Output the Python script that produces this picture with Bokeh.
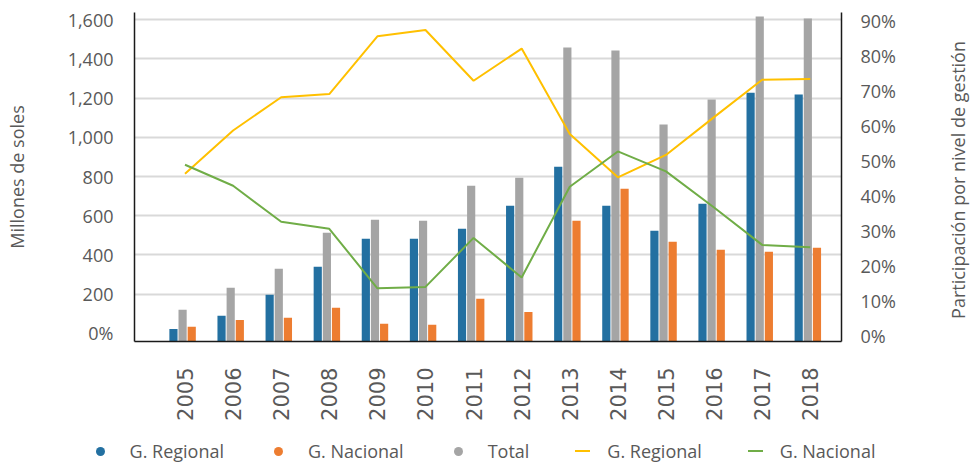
import math
from bokeh.plotting import figure
from bokeh.layouts import column, row
from bokeh.models import (ColumnDataSource, Range1d, LinearAxis, FixedTicker, Div,
                          NumeralTickFormatter, PrintfTickFormatter)
from bokeh.transform import dodge
from bokeh.embed import file_html
from bokeh.resources import INLINE

# ---- data ----
years = [2005, 2006, 2007, 2008, 2009, 2010, 2011, 2012, 2013, 2014, 2015, 2016, 2017, 2018]
g_regional = [22, 89, 196, 339, 482, 482, 533, 651, 850, 651, 523, 661, 1228, 1218]
g_nacional = [33, 68, 79, 130, 48, 43, 176, 109, 574, 738, 467, 426, 416, 436]
total = [120, 232, 329, 513, 579, 574, 753, 794, 1458, 1443, 1065, 1193, 1617, 1607]
pct_regional = [46.3, 58.7, 68.2, 69.1, 85.6, 87.4, 72.9, 82.1, 57.7, 45.3, 51.7, 62.5, 73.2, 73.4]
pct_nacional = [48.9, 42.9, 32.6, 30.6, 13.6, 14.0, 28.0, 16.7, 42.6, 52.7, 47.0, 36.7, 26.0, 25.3]
left_ticks = [0, 200, 400, 600, 800, 1000, 1200, 1400, 1600]
right_ticks = [0, 10, 20, 30, 40, 50, 60, 70, 80, 90]
legend_labels = ["G. Regional", "G. Nacional", "Total", "G. Regional", "G. Nacional"]
left_title = "Millones de soles"
right_title = "Participación por nivel de gestión"

BLUE = "#2370A1"
ORANGE = "#ED7D31"
GRAY = "#A5A5A5"
YELLOW = "#FFC000"
GREEN = "#70AD47"
TXT = "#595959"
FONT = "Open Sans"

Y0 = -42
src = ColumnDataSource(dict(year=years, reg=g_regional, nac=g_nacional, tot=total,
                            preg=pct_regional, pnac=pct_nacional))

p = figure(width=945, height=440, output_backend="svg", toolbar_location=None,
           x_range=Range1d(2003.95, 2018.65), y_range=Range1d(Y0, 1637),
           min_border_left=134, min_border_right=104, min_border_top=12,
           min_border_bottom=99, outline_line_color=None,
           background_fill_color="white", border_fill_color="white")
p.extra_y_ranges = {"pct": Range1d(-1.6, 92.4)}

W = 0.17
p.vbar(x=dodge("year", -0.24, range=p.x_range), top="reg", bottom=Y0, width=W,
       source=src, fill_color=BLUE, line_color=None)
p.vbar(x=dodge("year", -0.05, range=p.x_range), top="tot", bottom=Y0, width=W,
       source=src, fill_color=GRAY, line_color=None)
p.vbar(x=dodge("year", 0.14, range=p.x_range), top="nac", bottom=Y0, width=W,
       source=src, fill_color=ORANGE, line_color=None)
p.line(x="year", y="preg", source=src, y_range_name="pct", line_color=YELLOW, line_width=2)
p.line(x="year", y="pnac", source=src, y_range_name="pct", line_color=GREEN, line_width=2)

# left axis
ya = p.yaxis[0]
ya.ticker = FixedTicker(ticks=left_ticks)
ya.formatter = NumeralTickFormatter(format="0,0")
ya.major_label_overrides = {0: "0%"}
ya.axis_label = left_title

ra = LinearAxis(y_range_name="pct", ticker=FixedTicker(ticks=right_ticks),
                formatter=PrintfTickFormatter(format="%d%%"))
p.add_layout(ra, "right")

for ax, st, lst in [(ya, 21, 36), (ra, 19, 10)]:
    ax.major_label_standoff = st
    ax.axis_label_standoff = lst
    ax.major_tick_line_color = None
    ax.minor_tick_line_color = None
    ax.major_tick_out = 0
    ax.major_tick_in = 0
    ax.axis_line_color = "#1a1a1a"
    ax.axis_line_width = 1.5
    ax.major_label_text_font = FONT
    ax.major_label_text_font_size = "18px"
    ax.major_label_text_color = TXT
    ax.axis_label_text_font = FONT
    ax.axis_label_text_font_size = "18px"
    ax.axis_label_text_font_style = "normal"
    ax.axis_label_text_color = TXT

xa = p.xaxis[0]
xa.ticker = FixedTicker(ticks=years)
xa.formatter = PrintfTickFormatter(format="%d")
xa.major_label_orientation = math.pi / 2
xa.major_label_standoff = 26
xa.major_tick_line_color = None
xa.minor_tick_line_color = None
xa.major_tick_out = 0
xa.major_tick_in = 0
xa.axis_line_color = "#1a1a1a"
xa.axis_line_width = 1.5
xa.major_label_text_font = "DejaVu Sans"
xa.major_label_text_font_size = "21px"
xa.major_label_text_color = TXT

p.xgrid.visible = False
p.ygrid.ticker = FixedTicker(ticks=left_ticks[1:])
p.ygrid.grid_line_color = "#D9D9D9"
p.ygrid.grid_line_width = 2

# ---- right axis title (HTML, reads bottom-to-top) ----
rt_html = ('<div style="width:28px;height:360px;display:flex;align-items:center;justify-content:center;">'
           f'<span style="writing-mode:vertical-rl;transform:rotate(180deg);font-family:\'{FONT}\';'
           f'font-size:18px;color:{TXT};white-space:nowrap;">{right_title}</span></div>')
rt = Div(text=rt_html, width=28, height=440, margin=0)

# ---- legend strip (HTML) ----
legend_items = [(legend_labels[0], BLUE, "dot"), (legend_labels[1], ORANGE, "dot"),
                (legend_labels[2], GRAY, "dot"), (legend_labels[3], YELLOW, "line"),
                (legend_labels[4], GREEN, "line")]
parts = []
for lab, col, kind in legend_items:
    if kind == "dot":
        g = (f'<span style="display:inline-block;width:9px;height:9px;border-radius:50%;'
             f'background:{col};margin:0 25px 0 4px;"></span>')
    else:
        g = (f'<span style="display:inline-block;width:15px;height:2px;'
             f'background:{col};margin:0 17px 0 0;"></span>')
    parts.append(f'<span style="display:flex;align-items:center;white-space:nowrap;">{g}{lab}</span>')
html = ('<div style="display:flex;align-items:center;justify-content:center;gap:46px;'
        f'width:973px;height:22px;padding-right:6px;box-sizing:border-box;font-family:\'{FONT}\';'
        f'font-size:18px;line-height:22px;color:{TXT};">' + "".join(parts) + '</div>')
lg = Div(text=html, width=973, height=22, margin=0)

layout = column(row(p, rt, spacing=0), lg, spacing=0)
open("out.html", "w").write(file_html(layout, INLINE))
